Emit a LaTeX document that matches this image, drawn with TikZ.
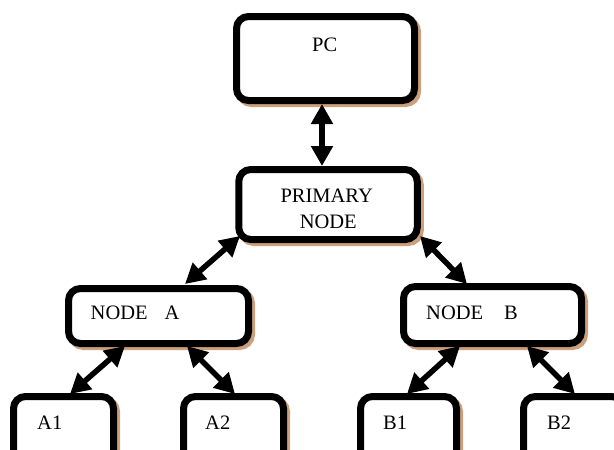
\documentclass[tikz,border=0pt]{standalone}
\usepackage{fontspec}
\setmainfont{Liberation Serif}
\usetikzlibrary{arrows.meta,calc}
\definecolor{shadowc}{RGB}{205,160,125}
\begin{document}
\begin{tikzpicture}[x=1pt,y=-1pt,
  box/.style={draw=black, fill=white, line width=7pt, rounded corners=12pt,
    inner sep=0pt, outer sep=0pt,
    preaction={draw=shadowc, fill=shadowc, line width=7pt,
      transform canvas={shift={(3pt,-3pt)}}}},
  lbl/.style={font=\fontsize{20.5}{25}\selectfont, inner sep=0pt, anchor=base west},
  link/.style={line width=5.5pt, {Triangle[length=20pt,width=21pt]}-{Triangle[length=20pt,width=21pt]}}]
\useasboundingbox (0,0) rectangle (614,450);
\clip (0,0) rectangle (614,450);
% boxes
\node[box, minimum width=178pt, minimum height=84pt] (pc) at (325.5,58.5) {};
\node[box, minimum width=178.5pt, minimum height=70pt] (pn) at (328,204.5) {};
\node[box, minimum width=180pt, minimum height=55pt] (na) at (158.5,316) {};
\node[box, minimum width=178pt, minimum height=57pt] (nb) at (492.5,315) {};
\node[box, minimum width=100pt, minimum height=70pt] (a1) at (63.5,431.5) {};
\node[box, minimum width=100pt, minimum height=70pt] (a2) at (233.5,431.5) {};
\node[box, minimum width=96pt, minimum height=70pt] (b1) at (408.5,431.5) {};
\node[box, minimum width=100pt, minimum height=70pt] (b2) at (573.5,431.5) {};
% texts
\node[lbl] (tpc) at (312,51) {PC};
\node[lbl, anchor=base] (tpn1) at (326.7,202.7) {PRIMARY};
\node[lbl, anchor=base] (tpn2) at (328.3,228) {NODE};
\node[lbl] (tna) at (90.5,319) {NODE\hspace{12pt} A};
\node[lbl] (tnb) at (426,319) {NODE\hspace{16pt} B};
\node[lbl] (ta1) at (37,429) {A1};
\node[lbl] (ta2) at (205,429) {A2};
\node[lbl] (tb1) at (383,429) {B1};
\node[lbl] (tb2) at (547,429) {B2};
% connectors
\draw[link] ($(pc.south)+(-3.5,3.5)$) -- ($(pn.north)+(-6,-3.5)$);
\draw[link] ($(pn.south west)+(1.25,-3.5)$) -- ($(na.north)+(26.5,-4.5)$);
\draw[link] ($(pn.south east)+(2.75,-3.5)$) -- ($(nb.north)+(-25.5,-2.5)$);
\draw[link] ($(na.south)+(-33.5,2.5)$) -- ($(a1.north)+(6.5,-2.5)$);
\draw[link] ($(na.south)+(28.5,2.5)$) -- ($(a2.north)+(1.5,-2.5)$);
\draw[link] ($(nb.south)+(-32.5,2.5)$) -- ($(b1.north)+(-1.5,-2.5)$);
\draw[link] ($(nb.south)+(34.5,2.5)$) -- ($(b2.north)+(1.5,-2.5)$);
\end{tikzpicture}
\end{document}
